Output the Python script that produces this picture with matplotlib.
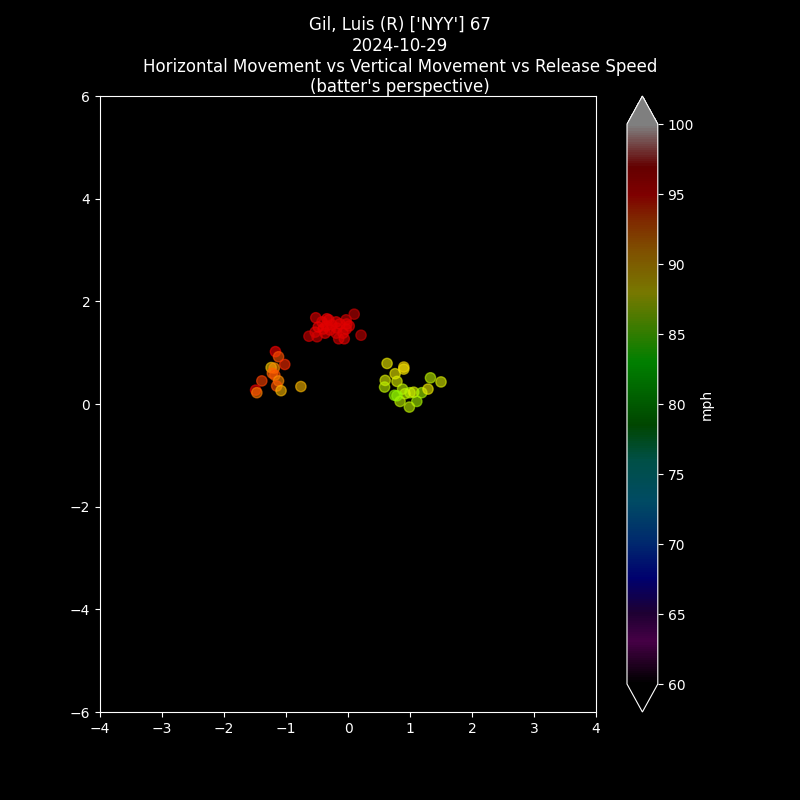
import matplotlib
matplotlib.use("Agg")
import matplotlib.pyplot as plt
import numpy as np
from matplotlib.colors import LinearSegmentedColormap, Normalize
from matplotlib.cm import ScalarMappable

plt.style.use("dark_background")

# horizontal movement, vertical movement, release speed
hmov = [-0.52, -0.42, -0.34, -0.19, -0.03, 0.10, -0.13, 0.02, -0.40, -0.53,
        -0.63, -0.50, -0.37, -0.19, -0.08, -0.15, -0.06, 0.21, -0.26, -0.29,
        -0.03, -0.02, -0.48, -0.31, -0.18, -0.35,
        -1.17, -1.12, -1.02, -1.24, -1.19, -1.22, -1.18, -1.12, -1.39, -1.15,
        -1.08, -1.49, -1.47, -0.76,
        0.63, 0.90, 0.90, 0.76, 0.79, 0.60, 0.59, 1.33, 1.50, 0.88,
        1.00, 0.92, 1.06, 1.19, 1.29, 0.75, 0.84, 1.11, 0.99, 0.79]
vmov = [1.68, 1.60, 1.66, 1.60, 1.64, 1.75, 1.56, 1.52, 1.46, 1.40,
        1.32, 1.31, 1.38, 1.38, 1.38, 1.27, 1.27, 1.34, 1.54, 1.44,
        1.46, 1.56, 1.50, 1.64, 1.48, 1.52,
        1.02, 0.92, 0.77, 0.71, 0.70, 0.60, 0.56, 0.45, 0.45, 0.35,
        0.26, 0.27, 0.22, 0.34,
        0.79, 0.72, 0.68, 0.59, 0.44, 0.46, 0.33, 0.51, 0.43, 0.29,
        0.22, 0.20, 0.23, 0.22, 0.29, 0.17, 0.05, 0.05, -0.06, 0.16]
speed = [96.0, 96.5, 95.5, 96.0, 96.5, 97.0, 96.0, 96.0, 95.5, 96.0,
         96.5, 96.5, 96.0, 96.0, 95.5, 96.5, 96.0, 97.0, 96.0, 96.0,
         96.0, 96.0, 95.5, 96.0, 96.0, 96.0,
         95.0, 93.0, 94.0, 89.5, 91.5, 92.5, 93.0, 91.5, 93.5, 93.0,
         90.0, 95.5, 92.0, 90.0,
         88.0, 89.0, 88.5, 88.0, 87.5, 87.5, 87.0, 87.0, 87.5, 87.0,
         86.5, 87.0, 87.5, 86.5, 88.0, 86.0, 87.0, 86.5, 87.0, 86.0]

vmin, vmax = 60, 100
stops = [(60, "#000000"), (63, "#8c008c"), (65, "#3c0064"), (67.5, "#0000dc"),
         (70, "#0050dc"), (73, "#0096c8"), (76, "#00a08c"), (78.5, "#008c00"),
         (83, "#00ff00"), (88, "#f0f000"), (91, "#ffa000"), (93.5, "#ff4600"),
         (95, "#ff0000"), (97, "#c80000"), (100, "#ffffff")]
cmap = LinearSegmentedColormap.from_list(
    "speed", [((v - vmin) / (vmax - vmin), c) for v, c in stops])
norm = Normalize(vmin=vmin, vmax=vmax)

fig, ax = plt.subplots(figsize=(8, 8))
ax.scatter(hmov, vmov, c=speed, cmap=cmap, norm=norm, s=55, alpha=0.6)
ax.set_xlim(-4, 4)
ax.set_ylim(-6, 6)

sm = ScalarMappable(norm=norm, cmap=cmap)
cbar = fig.colorbar(sm, ax=ax, extend="both", alpha=0.5)
cbar.set_label("mph")

fig.suptitle("Gil, Luis (R) ['NYY'] 67\n2024-10-29\n"
             "Horizontal Movement vs Vertical Movement vs Release Speed\n"
             "(batter's perspective)")

plt.savefig("out.png", dpi=100)
